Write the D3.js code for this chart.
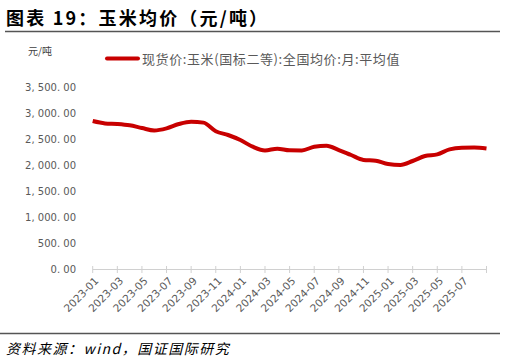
<!DOCTYPE html>
<html><head><meta charset="utf-8">
<script src="https://cdn.jsdelivr.net/npm/d3@7"></script>
<style>body{margin:0;background:#fff}svg{display:block}</style>
</head><body>
<script>
const months = ["2023-01","2023-02","2023-03","2023-04","2023-05","2023-06","2023-07","2023-08","2023-09","2023-10","2023-11","2023-12",
"2024-01","2024-02","2024-03","2024-04","2024-05","2024-06","2024-07","2024-08","2024-09","2024-10","2024-11","2024-12",
"2025-01","2025-02","2025-03","2025-04","2025-05","2025-06","2025-07","2025-08","2025-09"];
const prices = [2845,2800,2788,2763,2711,2665,2705,2788,2833,2815,2650,2577,2480,2352,2280,2314,2282,2280,2352,2372,2288,2192,2098,2083,2019,2002,2077,2173,2205,2301,2333,2336,2316];
const yTicks = [0,500,1000,1500,2000,2500,3000,3500];
const xTickLabels = ["2023-01","2023-03","2023-05","2023-07","2023-09","2023-11","2024-01","2024-03","2024-05","2024-07","2024-09","2024-11","2025-01","2025-03","2025-05","2025-07"];
const title = "图表 19：玉米均价（元/吨）";
const unit = "元/吨";
const legendLabel = "现货价:玉米(国标二等):全国均价:月:平均值";
const source = "资料来源：wind，国证国际研究";

const W = 506, H = 364;
const svg = d3.select("body").append("svg").attr("width", W).attr("height", H);
const font = "'Noto Sans CJK SC', 'Noto Sans', sans-serif";

svg.append("text").attr("x", 6).attr("y", 25).text(title)
  .attr("font-family", font).attr("font-size", 18).attr("letter-spacing", 2.2).attr("font-weight", "bold").attr("fill", "#000");
svg.append("line").attr("x1", 5).attr("x2", 500).attr("y1", 31.5).attr("y2", 31.5).attr("stroke", "#555").attr("stroke-width", 1.5);

const x = d3.scalePoint().domain(months).range([92.7, 486.5]);
const y = d3.scaleLinear().domain([0, 3500]).range([269, 87]);

// y axis labels
svg.append("g").selectAll("text").data(yTicks).join("text")
  .attr("x", 76).attr("y", d => y(d)).attr("dy", "0.35em").attr("text-anchor", "end")
  .attr("font-family", "'DejaVu Sans', sans-serif").attr("font-size", 10).attr("fill", "#595959")
  .text(d => d3.format(",.2f")(d).replace(/,/g, ", ").replace(".", ". "));

svg.append("text").attr("x", 28).attr("y", 55).text(unit)
  .attr("font-family", font).attr("font-size", 10).attr("fill", "#404040");

// x axis
const ax = svg.append("g");
ax.append("line").attr("x1", x(months[0])).attr("x2", x(months[months.length-1]))
  .attr("y1", 269.5).attr("y2", 269.5).attr("stroke", "#d0d0d0").attr("stroke-width", 1);
const tickMonths = months.filter((m, i) => i % 2 === 0);
ax.selectAll("line.t").data(tickMonths).join("line").attr("class", "t")
  .attr("x1", d => x(d)).attr("x2", d => x(d)).attr("y1", 266).attr("y2", 273)
  .attr("stroke", "#d0d0d0").attr("stroke-width", 1);
ax.selectAll("text").data(xTickLabels).join("text")
  .attr("transform", d => `translate(${x(d) + 4},${279}) rotate(-45)`)
  .attr("text-anchor", "end").attr("dy", "0.35em")
  .attr("font-family", "'DejaVu Sans', sans-serif").attr("font-size", 10.5).attr("fill", "#595959")
  .text(d => d);

// line
const line = d3.line().x((d, i) => x(months[i])).y(d => y(d)).curve(d3.curveMonotoneX);
svg.append("path").datum(prices).attr("d", line).attr("fill", "none")
  .attr("stroke", "#c80000").attr("stroke-width", 4).attr("stroke-linejoin", "round");

// legend
svg.append("line").attr("x1", 107).attr("x2", 138).attr("y1", 58.5).attr("y2", 58.5)
  .attr("stroke", "#c80000").attr("stroke-width", 4).attr("stroke-linecap", "round");
svg.append("text").attr("x", 142).attr("y", 59).attr("dy", "0.35em").text(legendLabel)
  .attr("font-family", font).attr("font-size", 13).attr("letter-spacing", 0.6).attr("fill", "#595959");

// footer
svg.append("line").attr("x1", 0).attr("x2", 500).attr("y1", 333.5).attr("y2", 333.5).attr("stroke", "#555").attr("stroke-width", 1.5);
svg.append("text").attr("x", 6).attr("y", 354).text(source)
  .attr("font-family", font).attr("font-size", 14).attr("letter-spacing", 1.5).attr("font-style", "italic").attr("fill", "#000");
</script>
</body></html>
